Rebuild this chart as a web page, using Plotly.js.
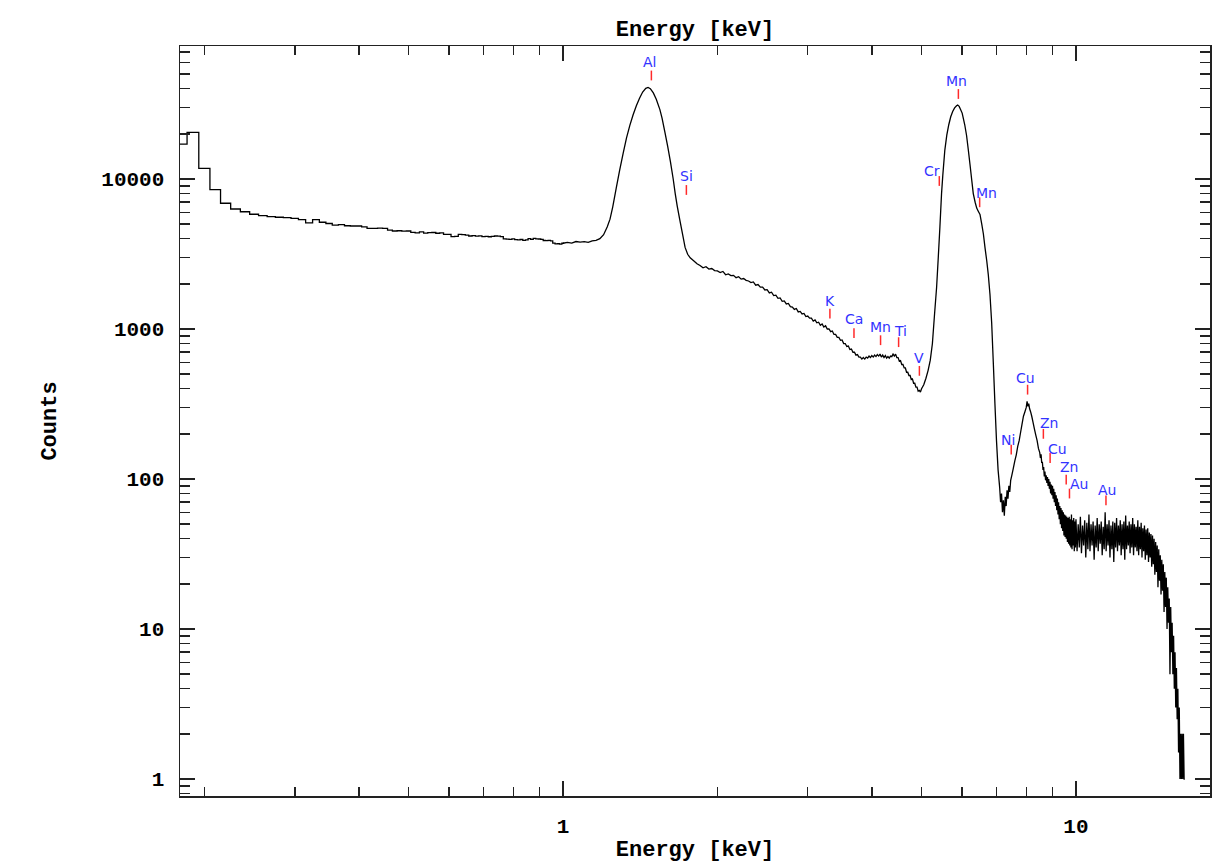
<!DOCTYPE html>
<html>
<head>
<meta charset="utf-8">
<script src="https://cdn.plot.ly/plotly-3.0.1.min.js"></script>
<style>html,body{margin:0;padding:0;background:#fff;}#chart{width:1229px;height:863px;}</style>
</head>
<body>
<div id="chart"></div>
<script>
// ---- Spectrum, low-energy channels (10 eV channel centres, keV) drawn as histogram steps
const stepEnergy = [0.18,0.19,0.20,0.21,0.22,0.23,0.24,0.25,0.26,0.27,0.28,0.29,0.30,0.31,0.32,0.33,0.34,0.35,0.36,0.37,0.38,0.39,0.40,0.41,0.42,0.43,0.44,0.45,0.46,0.47,0.48,0.49,0.50,0.51,0.52,0.53,0.54,0.55,0.56,0.57,0.58,0.59,0.60,0.61,0.62,0.63,0.64,0.65,0.66,0.67,0.68,0.69,0.70,0.71,0.72,0.73,0.74,0.75,0.76,0.77,0.78,0.79,0.80,0.81,0.82,0.83,0.84,0.85,0.86,0.87,0.88,0.89,0.90,0.91,0.92,0.93,0.94,0.95,0.96,0.97,0.98,0.99,1.00];
const stepCounts = [17100,20470,11780,8490,6890,6310,6050,5820,5700,5620,5560,5530,5470,5360,5100,5360,5150,5050,4930,4970,4880,4860,4860,4800,4690,4690,4700,4680,4560,4500,4520,4490,4500,4410,4380,4440,4360,4390,4400,4350,4380,4270,4280,4130,4150,4270,4260,4230,4170,4190,4160,4180,4130,4150,4120,4140,4170,4160,4130,3990,3970,3960,3990,3940,3930,3950,3900,3930,4000,3960,4020,3990,3980,3960,3890,3880,3900,3870,3740,3690,3700,3680,3730];

// ---- Spectrum above 1 keV (keV, counts)
const lineEnergy = [1.00,1.02,1.04,1.06,1.08,1.10,1.12,1.14,1.16,1.18,1.20,1.22,1.235,1.25,1.27,1.29,1.31,1.33,1.35,1.37,1.39,1.41,1.43,1.45,1.465,1.48,1.50,1.52,1.545,1.56,1.58,1.60,1.62,1.64,1.655,1.67,1.69,1.71,1.73,1.75,1.77,1.80,1.825,
1.850,1.875,1.900,1.925,1.950,1.975,2.000,2.025,2.050,2.075,2.100,2.125,2.150,2.175,2.200,2.225,2.250,2.275,2.300,2.325,2.350,2.375,2.400,2.425,2.450,2.475,2.500,2.525,2.550,2.575,2.600,2.625,2.650,2.675,2.700,2.725,2.750,2.775,2.800,2.825,2.850,2.875,2.900,2.925,2.950,2.975,
3.000,3.025,3.050,3.075,3.100,3.125,3.150,3.175,3.200,3.225,3.250,3.275,3.300,3.325,3.350,3.375,3.400,3.425,3.450,3.475,3.500,3.525,3.550,3.575,3.600,3.625,3.650,3.675,3.700,3.725,3.750,3.775,3.800,3.825,3.850,3.875,3.900,3.925,3.950,3.975,
4.000,4.025,4.050,4.075,4.100,4.125,4.150,4.175,4.200,4.225,4.250,4.275,4.300,4.325,4.350,4.375,4.400,4.425,4.450,4.475,4.500,4.525,4.550,4.575,4.600,4.625,4.650,4.675,4.700,4.725,4.750,4.775,4.800,4.825,4.850,4.875,4.900,4.925,4.950,4.975,
5.00,5.05,5.10,5.15,5.20,5.25,5.30,5.35,5.39,5.43,5.47,5.50,5.55,5.60,5.65,5.70,5.75,5.80,5.85,5.88,5.92,5.96,6.00,6.03,6.07,6.12,6.17,6.215,6.26,6.307,6.36,6.405,6.45,6.50,6.552,6.60,6.647,6.70,6.747,6.798,6.85,6.90,6.95,7.00,7.05,
7.10,7.13,7.16,7.19,7.22,7.25,7.28,7.31,7.34,7.37,7.40,7.43,7.46,7.50,7.55,7.60,7.65,7.70,7.75,7.80,7.85,7.90,7.95,8.00,8.03,8.06,8.09,8.12,8.16,8.20,8.25,8.30,8.35,8.40,8.45,
8.500,8.525,8.550,8.575,8.600,8.625,8.650,8.675,8.700,8.725,8.750,8.775,8.800,8.825,8.850,8.875,8.900,8.925,8.950,8.975,9.000,9.025,9.050,9.075,9.100,9.125,9.150,9.175,9.200,9.225,9.250,9.275,9.300,9.325,9.350,9.375,9.400,9.425,9.450,9.475,9.500,9.525,9.550,9.575,9.600,9.625,9.650,9.675,9.700,9.725,9.750,9.775,9.800,9.825,9.850,9.875,9.900,9.925,9.950,9.975,
10.00,10.05,10.10,10.15,10.20,10.25,10.30,10.35,10.40,10.45,10.50,10.55,10.60,10.65,10.70,10.75,10.80,10.85,10.90,10.95,11.00,11.05,11.10,11.15,11.20,11.25,11.30,11.35,11.40,11.45,11.50,11.55,11.60,11.65,11.70,11.75,11.80,11.85,11.90,11.95,12.00,12.05,12.10,12.15,12.20,12.25,12.30,12.35,12.40,12.45,12.50,12.55,12.60,12.65,12.70,12.75,12.80,12.85,12.90,12.95,13.00,13.05,13.10,13.15,13.20,13.25,13.30,13.35,13.40,13.45,13.50,13.55,13.60,13.65,13.70,13.75,13.80,13.85,13.90,13.95,14.00,14.05,14.10,14.15,14.20,14.25,14.30,14.35,14.40,14.45,14.50,14.55,14.60,14.65,14.70,14.75,14.80,14.85,14.90,14.95,15.00,15.05,15.10,15.15,15.20,15.25,15.30,15.35,15.40,15.45,15.50,15.55,15.60,15.65,15.70,15.75,15.80,15.85,15.90,15.95,16.00,16.05,16.10,16.15,16.20,16.25,16.30];
const lineCounts = [3730,3780,3740,3830,3790,3820,3780,3870,3900,4000,4250,4800,5400,6500,8700,11500,14800,18800,22800,26800,30800,34500,38000,40200,40800,40000,37500,34000,29000,25500,20500,16500,13000,10000,8000,6600,5300,4300,3500,3150,2980,2840,2720,
2650,2560,2600,2510,2530,2450,2440,2380,2420,2300,2330,2270,2280,2200,2230,2150,2170,2110,2090,2040,2060,1960,1980,1900,1900,1820,1830,1740,1760,1670,1680,1600,1610,1530,1540,1470,1480,1410,1400,1350,1370,1300,1310,1260,1270,1210,
1220,1180,1180,1130,1150,1100,1110,1060,1080,1030,1050,1000,1000,960,970,920,920,880,880,840,845,800,800,765,770,730,735,700,700,670,675,650,650,630,645,630,650,640,660,645,
665,650,670,655,675,660,680,650,670,645,665,640,655,640,660,655,680,660,680,645,645,610,615,580,580,550,550,515,515,490,490,460,465,435,435,410,410,385,390,380,
400,425,470,530,620,800,1250,1900,3000,4800,8000,10500,15500,19600,23000,26000,28200,29800,30800,31100,30500,29000,27500,25500,23000,19500,15500,12500,10000,8000,7000,6400,6100,5800,5000,4300,3500,2850,2300,1700,1100,600,320,180,115,
88,70,80,60,72,57,76,66,84,74,90,82,98,106,118,132,145,165,180,205,232,262,280,300,330,305,318,295,280,262,238,215,196,180,160,
150,138,146,128,130,115,120,104,112,98,106,94,103,90,100,86,96,80,92,78,90,74,86,70,82,66,78,62,74,58,70,54,66,50,64,47,62,45,60,42,58,41,57,40,56,38,55,37,56,36,54,35,58,34,53,36,55,33,52,35,
54,33,50,35,56,32,49,36,53,30,51,34,58,33,50,36,52,29,49,35,55,33,50,37,52,31,48,34,60,33,50,36,53,30,49,34,52,28,51,35,55,33,49,36,53,31,50,34,52,29,57,34,49,36,52,32,50,35,55,31,50,35,48,33,53,31,48,34,51,30,47,33,49,29,46,31,47,28,44,30,43,26,42,27,40,23,38,24,36,19,34,21,31,17,29,18,27,13,24,14,22,10,19,11,16,5,14,7,11,5,9,4,7,3,5.5,2.5,4,1.5,3,1,2,1,2,1,2,1,1];

// ---- Identified emission lines
const lineNames    = ['Al','Si','K','Ca','Mn','Ti','V','Cr','Mn','Mn','Ni','Cu','Zn','Cu','Zn','Au','Au'];
const lineEnergies = [1.487,1.740,3.314,3.692,4.160,4.511,4.952,5.415,5.899,6.490,7.478,8.048,8.639,8.905,9.572,9.713,11.442];
const markerCounts = [48980,8450,1265,940,842,817,526,9700,36870,6995,157,394,200,138,99,80,72];

// ---- Axis tick labels
const xTickVals = [1,10];
const xTickText = ['1','10'];
const yTickVals = [1,10,100,1000,10000];
const yTickText = ['1','10','100','1000','10000'];

// label offsets (style only, px)
const labelDx = [-2,0,0,0,0,2,0,-7,-2,7,-3,-2,6,7,3,10,1];
const labelDy = [14,14,13,14,13.5,11.5,12.5,9.5,13,9.5,10,11.5,10.5,9.5,13,9.5,10.5];

const CH = 0.01; // channel width keV
const stepX = stepEnergy.map(e => e - CH/2);
stepX.push(stepEnergy[stepEnergy.length-1] + CH/2);
const stepY = stepCounts.slice();
stepY.push(stepCounts[stepCounts.length-1]);

const lineStyle = {color:'#000', width:1.3};
const traces = [
  {x: stepX, y: stepY, type:'scatter', mode:'lines', line:Object.assign({shape:'hv'}, lineStyle), hoverinfo:'skip'},
  {x: lineEnergy, y: lineCounts, type:'scatter', mode:'lines', line:Object.assign({shape:'linear', simplify:false}, lineStyle), hoverinfo:'skip'},
  {x: lineEnergies, y: markerCounts, type:'scatter', mode:'markers',
   marker:{symbol:'line-ns', size:7, color:'#ff2a2a', line:{width:1.5, color:'#ff2a2a'}}, hoverinfo:'skip'}
];

const annotations = lineNames.map((n,i) => ({
  x: Math.log10(lineEnergies[i]), y: Math.log10(markerCounts[i]), xref:'x', yref:'y',
  text: n, showarrow:false, xanchor:'center', yanchor:'middle',
  xshift: labelDx[i], yshift: labelDy[i],
  font:{family:'DejaVu Sans', size:14, color:'#3333ff'}
}));

const FONT = 'Liberation Mono';
const tickFont = {family: FONT, size: 21, color:'#000', weight:'bold'};
const titleFont = {family: FONT, size: 22, color:'#000', weight:'bold'};
const axisCommon = {
  type:'log', showgrid:false, zeroline:false, showline:true, linecolor:'#222', linewidth:1.5,
  mirror:'ticks', ticks:'inside', ticklen:15, tickwidth:1.5, tickcolor:'#222',
  tickmode:'array', tickfont: tickFont, automargin:false,
  minor:{ticks:'inside', ticklen:9, tickwidth:1.5, tickcolor:'#222', dtick:'D1', showgrid:false}
};

const layout = {
  width:1229, height:863,
  margin:{l:180, r:19, t:46, b:67},
  paper_bgcolor:'#fff', plot_bgcolor:'#fff',
  showlegend:false,
  title:{text:'Energy [keV]', font:titleFont, x:0.5, xref:'paper', xanchor:'center', y:1-28/863, yref:'container', yanchor:'middle'},
  xaxis: Object.assign({}, axisCommon, {
    range:[-0.7466, 1.2613], tickvals:xTickVals, ticktext:xTickText, ticklabelstandoff:10,
    title:{text:'Energy [keV]', font:titleFont, standoff:8}
  }),
  yaxis: Object.assign({}, axisCommon, {
    range:[-0.1133, 4.8867], tickvals:yTickVals, ticktext:yTickText, ticklabelstandoff:10,
    minor:{ticks:'inside', ticklen:10, tickwidth:1.5, tickcolor:'#222', dtick:'D1', showgrid:false},
    title:{text:'Counts', font:titleFont, standoff:38}
  }),
  annotations: annotations
};

Plotly.newPlot('chart', traces, layout, {staticPlot:true, displayModeBar:false});
</script>
</body>
</html>
